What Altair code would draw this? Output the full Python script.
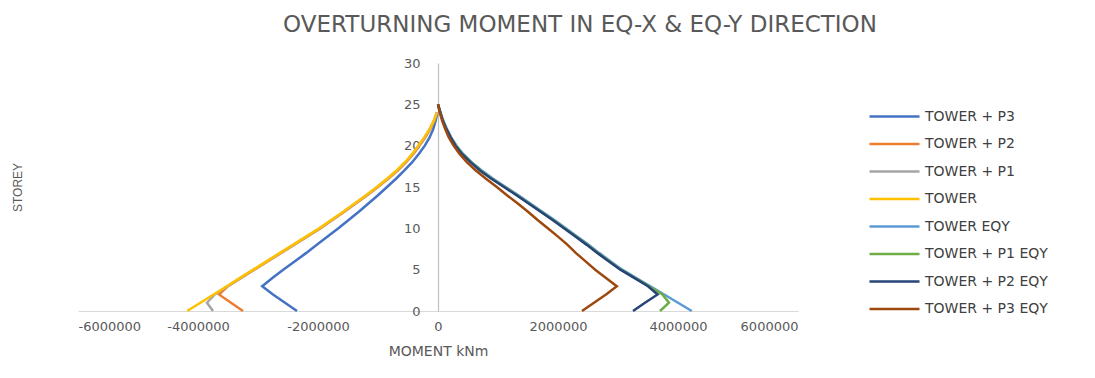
import altair as alt
import pandas as pd

series_names = [
    "\u00a0\u00a0TOWER + P3", "TOWER + P2", "TOWER + P1", "TOWER",
    "TOWER EQY", "TOWER + P1 EQY", "TOWER + P2 EQY", "\u00a0\u00a0TOWER + P3 EQY",
]
colors = ["#4472C4", "#ED7D31", "#A5A5A5", "#FFC000",
          "#5B9BD5", "#70AD47", "#264478", "#9E480E"]

# values in kNm (in millions), storey 0 upward
tower_p3 = [-2.35, -2.55, -2.75, -2.93, -2.76, -2.58, -2.39, -2.20, -2.02, -1.84,
            -1.66, -1.49, -1.32, -1.16, -1.00, -0.85, -0.70, -0.56, -0.43, -0.32,
            -0.22, -0.14, -0.08, -0.04, -0.01]
tower_p2 = [-3.25, -3.45, -3.65, -3.50, -3.28, -3.06, -2.84, -2.62, -2.40, -2.18,
            -1.96, -1.76, -1.56, -1.37, -1.18, -1.00, -0.83, -0.67, -0.53, -0.41,
            -0.31, -0.21, -0.13, -0.06, -0.02]
tower_p1 = [-3.75, -3.85, -3.72, -3.51, -3.29, -3.07, -2.85, -2.63, -2.41, -2.19,
            -1.97, -1.77, -1.57, -1.38, -1.19, -1.01, -0.84, -0.68, -0.54, -0.42,
            -0.32, -0.22, -0.14, -0.07, -0.02]
tower = [-4.18, -3.96, -3.74, -3.52, -3.30, -3.08, -2.86, -2.64, -2.42, -2.20,
         -1.98, -1.78, -1.58, -1.39, -1.20, -1.02, -0.85, -0.69, -0.55, -0.43,
         -0.33, -0.23, -0.14, -0.07, -0.02]
tower_eqy = [4.23, 4.00, 3.77, 3.54, 3.30, 3.07, 2.88, 2.69, 2.51, 2.32,
             2.13, 1.94, 1.74, 1.54, 1.34, 1.13, 0.92, 0.73, 0.56, 0.42,
             0.31, 0.22, 0.15, 0.09, 0.04, 0.00]
tower_p1_eqy = [3.70, 3.85, 3.74, 3.52, 3.28, 3.05, 2.86, 2.67, 2.49, 2.30,
                2.11, 1.92, 1.72, 1.52, 1.32, 1.11, 0.90, 0.71, 0.55, 0.41,
                0.30, 0.21, 0.14, 0.08, 0.04, 0.00]
tower_p2_eqy = [3.25, 3.45, 3.66, 3.50, 3.27, 3.04, 2.85, 2.66, 2.48, 2.29,
                2.10, 1.91, 1.71, 1.51, 1.31, 1.10, 0.89, 0.70, 0.54, 0.40,
                0.29, 0.21, 0.14, 0.08, 0.04, 0.00]
tower_p3_eqy = [2.40, 2.60, 2.80, 2.98, 2.80, 2.62, 2.46, 2.30, 2.16, 2.00,
                1.83, 1.66, 1.50, 1.33, 1.15, 0.98, 0.80, 0.63, 0.48, 0.36,
                0.26, 0.18, 0.12, 0.07, 0.03, 0.00]

all_values = [tower_p3, tower_p2, tower_p1, tower,
              tower_eqy, tower_p1_eqy, tower_p2_eqy, tower_p3_eqy]

rows = []
for idx, (name, vals) in enumerate(zip(series_names, all_values)):
    for s, v in enumerate(vals):
        rows.append({"series": name, "idx": idx, "storey": s, "moment": v * 1e6})
df = pd.DataFrame(rows)

x_ticks = [-6000000, -4000000, -2000000, 0, 2000000, 4000000, 6000000]
y_ticks = [0, 5, 10, 15, 20, 25, 30]

chart = alt.Chart(df).mark_line(strokeWidth=2.5).encode(
    x=alt.X("moment:Q",
            scale=alt.Scale(domain=[-6000000, 6000000], nice=False),
            axis=alt.Axis(values=x_ticks, labelExpr="'' + datum.value",
                          title="MOMENT kNm",
                          grid=False, ticks=False, domainColor="#D9D9D9",
                          domainWidth=1.2, labelColor="#595959",
                          labelFont="DejaVu Sans", labelFontSize=13,
                          labelPadding=9, titleFont="DejaVu Sans",
                          titleFontSize=14, titleFontWeight="normal",
                          titleColor="#595959", titlePadding=11)),
    y=alt.Y("storey:Q",
            scale=alt.Scale(domain=[0, 30], nice=False),
            axis=alt.Axis(values=y_ticks, title="STOREY", grid=False,
                          ticks=False, offset=-360, domainColor="#BFBFBF",
                          domainWidth=1.2, labelColor="#595959",
                          labelFont="DejaVu Sans", labelFontSize=13,
                          labelPadding=18, titleFont="Liberation Sans",
                          titleFontSize=12, titleFontWeight="normal",
                          titleColor="#595959", titleX=-414, titleY=124)),
    color=alt.Color("series:N",
                    scale=alt.Scale(domain=series_names, range=colors),
                    sort=series_names,
                    legend=alt.Legend(
                        title=None, orient="none", legendX=805, legendY=42,
                        symbolType="M-2.5,0L2.5,0", symbolSize=400,
                        symbolStrokeWidth=2.5, labelFont="DejaVu Sans",
                        labelFontSize=14, labelColor="#404040",
                        labelOffset=19, rowPadding=8.5, padding=0,
                        labelLimit=300)),
    order=alt.Order("storey:Q"),
).properties(
    width=720, height=248,
    background="white",
    title=alt.TitleParams("OVERTURNING MOMENT IN EQ-X & EQ-Y DIRECTION",
                          font="DejaVu Sans", fontSize=23, fontWeight="normal",
                          color="#595959", anchor="middle", dx=142, offset=20),
    padding={"left": 78, "top": 63, "right": 297, "bottom": 67},
    autosize=alt.AutoSizeParams(type="none"),
).configure_view(strokeWidth=0)

chart.save("out.html", embed_options={"renderer": "svg", "actions": False})
